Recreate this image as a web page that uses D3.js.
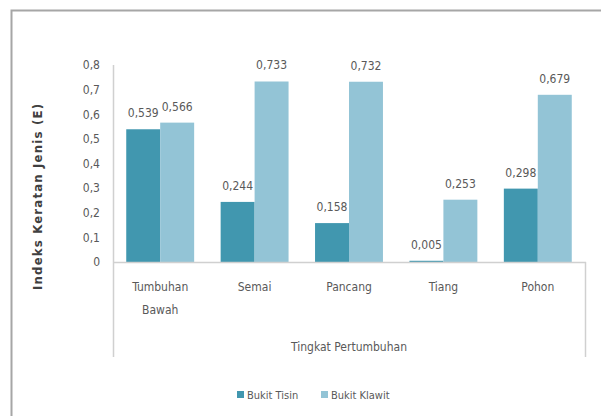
<!DOCTYPE html>
<html>
<head>
<meta charset="utf-8">
<script src="https://cdn.jsdelivr.net/npm/d3@7"></script>
<style>
  html, body { margin: 0; padding: 0; background: #fff; }
  svg { display: block; }
  text { font-family: "DejaVu Sans Condensed", "Liberation Sans Narrow", "Liberation Sans", sans-serif; fill: #595959; }
</style>
</head>
<body>
<svg id="chart" width="601" height="416"></svg>
<script>
// Indeks kerataan jenis per tingkat pertumbuhan
const categories = ["Tumbuhan Bawah", "Semai", "Pancang", "Tiang", "Pohon"];
const seriesNames = ["Bukit Tisin", "Bukit Klawit"];
const bukitTisin = [0.539, 0.244, 0.158, 0.005, 0.298];
const bukitKlawit = [0.566, 0.733, 0.732, 0.253, 0.679];
const yTicks = [0, 0.1, 0.2, 0.3, 0.4, 0.5, 0.6, 0.7, 0.8];
const colors = ["#4197AF", "#93C4D6"];

const svg = d3.select("#chart");
const fmt = v => (v === 0 ? "0" : String(v).replace(".", ","));
const labelFont = '"DejaVu Sans Condensed", "Liberation Sans Narrow", "Liberation Sans", sans-serif';

// outer frame (top and left edges visible)
svg.append("path")
  .attr("d", "M11.5,416 V10.5 H601")
  .attr("fill", "none").attr("stroke", "#a6a6a6").attr("stroke-width", 2);

const plot = { left: 113, right: 585, top: 65, bottom: 262, boxBottom: 357 };

const x = d3.scaleBand().domain(categories).range([plot.left, plot.right]).paddingInner(0).paddingOuter(0);
const xs = d3.scaleBand().domain(seriesNames).range([0, x.bandwidth()]).paddingInner(0).paddingOuter(0.39);
const y = d3.scaleLinear().domain([0, 0.8]).range([plot.bottom, plot.top]);

// y axis labels
const yAxis = d3.axisLeft(y).tickValues(yTicks).tickFormat(fmt).tickSize(0).tickPadding(13);
const gy = svg.append("g").attr("transform", `translate(${plot.left},0)`).call(yAxis);
gy.select(".domain").remove();
gy.selectAll("text").style("font-size", "12px").attr("fill", "#595959")
  .style("font-family", labelFont);

// axis box lines
const lineColor = "#d0d0d0";
svg.append("line").attr("x1", plot.left + 0.5).attr("x2", plot.left + 0.5)
  .attr("y1", plot.top).attr("y2", plot.boxBottom).attr("stroke", lineColor).attr("stroke-width", 1.5);
svg.append("line").attr("x1", plot.right + 0.5).attr("x2", plot.right + 0.5)
  .attr("y1", plot.bottom).attr("y2", plot.boxBottom).attr("stroke", lineColor).attr("stroke-width", 1.5);

// bars
const rows = categories.map((c, i) => ({ cat: c, vals: [bukitTisin[i], bukitKlawit[i]] }));
const groups = svg.append("g").selectAll("g").data(rows).join("g")
  .attr("transform", d => `translate(${x(d.cat)},0)`);

groups.selectAll("rect").data(d => d.vals.map((v, k) => ({ v, k }))).join("rect")
  .attr("x", d => xs(seriesNames[d.k]))
  .attr("width", xs.bandwidth())
  .attr("y", d => y(d.v))
  .attr("height", d => y(0) - y(d.v))
  .attr("fill", d => colors[d.k]);

groups.selectAll("text.val").data(d => d.vals.map((v, k) => ({ v, k }))).join("text")
  .attr("class", "val")
  .attr("x", d => xs(seriesNames[d.k]) + xs.bandwidth() / 2)
  .attr("y", d => y(d.v) - 12)
  .attr("text-anchor", "middle")
  .style("font-size", "12px")
  .text(d => fmt(d.v));

// baseline
svg.append("line").attr("x1", plot.left).attr("x2", plot.right + 1)
  .attr("y1", plot.bottom + 0.5).attr("y2", plot.bottom + 0.5)
  .attr("stroke", lineColor).attr("stroke-width", 1.5);

// category labels
const catLabels = svg.append("g").selectAll("text").data(categories).join("text")
  .attr("x", d => x(d) + x.bandwidth() / 2)
  .attr("y", 291)
  .attr("text-anchor", "middle")
  .style("font-size", "12px");
catLabels.each(function (d) {
  const words = d.split(" ");
  const t = d3.select(this);
  words.forEach((w, i) => {
    t.append("tspan").attr("x", x(d) + x.bandwidth() / 2).attr("dy", i === 0 ? 0 : 23).text(w);
  });
});

// axis titles
svg.append("text").attr("x", (plot.left + plot.right) / 2).attr("y", 351)
  .attr("text-anchor", "middle").style("font-size", "12px").text("Tingkat Pertumbuhan");

svg.append("text").attr("transform", "translate(42,197) rotate(-90)")
  .attr("text-anchor", "middle").style("font-size", "13px").style("font-weight", "bold")
  .attr("textLength", 186).attr("lengthAdjust", "spacing")
  .style("fill", "#404040")
  .text("Indeks Keratan Jenis (E)");

// legend
const legend = svg.append("g").attr("transform", "translate(237,395)");
const legendX = [0, 84];
seriesNames.forEach((s, i) => {
  const g = legend.append("g").attr("transform", `translate(${legendX[i]},0)`);
  g.append("rect").attr("x", 0).attr("y", -4).attr("width", 7).attr("height", 7).attr("fill", colors[i]);
  g.append("text").attr("x", 10).attr("y", 4).style("font-size", "11px").text(s);
});
</script>
</body>
</html>
